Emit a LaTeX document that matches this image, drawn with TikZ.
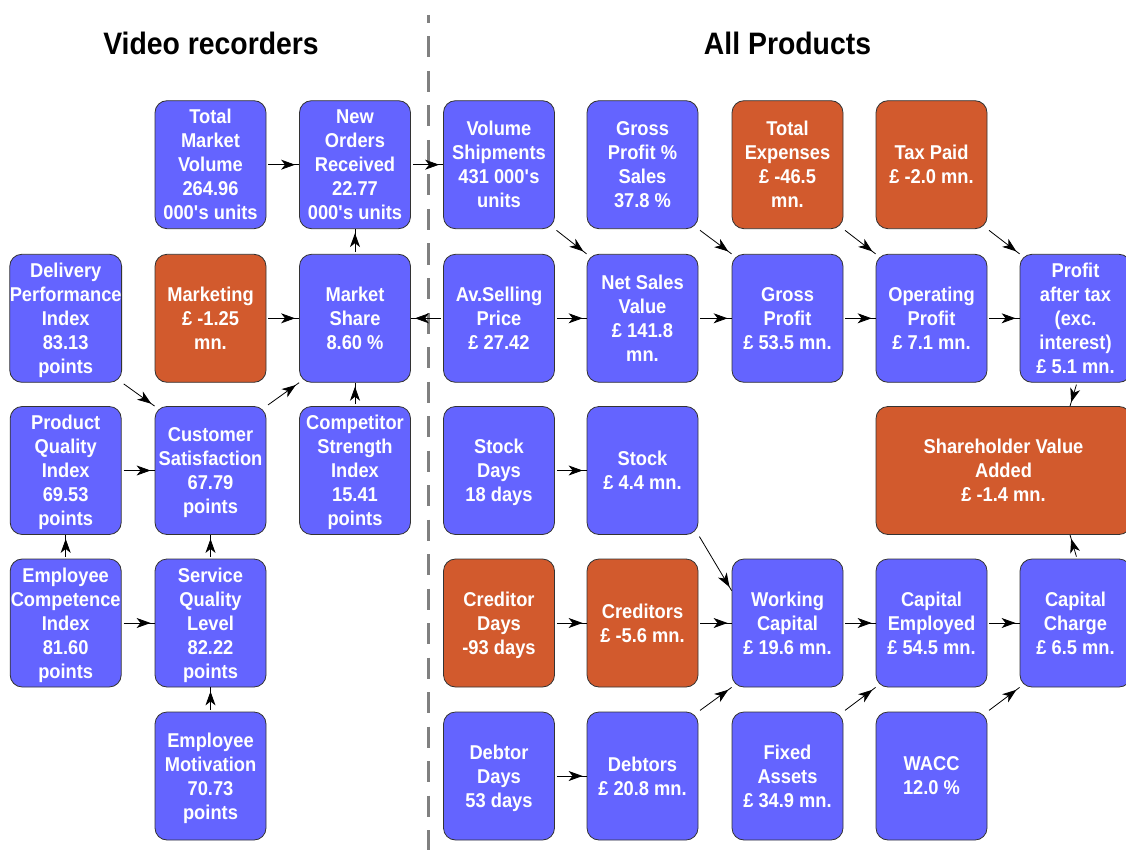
\documentclass[tikz,border=0pt]{standalone}
\usepackage{fontspec}
\setmainfont{Liberation Sans}[FakeStretch=0.915]
\usetikzlibrary{arrows.meta,decorations.markings,calc}
\definecolor{boxblue}{RGB}{100,100,255}
\definecolor{boxred}{RGB}{210,90,45}
\begin{document}
\begin{tikzpicture}[x=1pt,y=-1pt,
  box/.style={shape=rectangle,rounded corners=12pt,draw=black!80,line width=0.8pt,fill=boxblue,
    minimum width=111pt,minimum height=128pt,inner sep=0pt,align=center,text=white,text depth=0pt,
    font=\bfseries\fontsize{20}{24}\selectfont},
  costbox/.style={box,fill=boxred},
  title/.style={font=\bfseries\fontsize{31}{36}\selectfont,anchor=base},
  link/.style={line width=0.8pt,shorten <=2pt,postaction={decorate},
    decoration={markings,mark=at position -4pt with {\arrow{Stealth[length=14pt,width=10pt,inset=4pt]}}}}]
\useasboundingbox (0,0) rectangle (1126,850);

\draw[gray,line width=3pt,dash pattern=on 21pt off 13.5pt,dash phase=13pt] (428,15) -- (428,850);
\node[title] (vidtitle) at (211,54.5) {Video recorders};
\node[title] (alltitle) at (787.5,54.5) {All Products};

% video recorders
\node[box] (tmv) at (210.5,164.7) {Total\\Market\\Volume\\264.96\\000\textquotesingle s units};
\node[box] (nor) at (355,164.7) {New\\Orders\\Received\\22.77\\000\textquotesingle s units};
\node[box] (dpi) at (65.7,318.3) {Delivery\\Performance\\Index\\83.13\\points};
\node[costbox] (mkt) at (210.5,318.3) {Marketing\\£ -1.25\\mn.};
\node[box] (ms) at (355,318.3) {Market\\Share\\8.60 \%};
\node[box] (pqi) at (65.7,470.5) {Product\\Quality\\Index\\69.53\\points};
\node[box] (cs) at (210.5,470.5) {Customer\\Satisfaction\\67.79\\points};
\node[box] (csi) at (355,470.5) {Competitor\\Strength\\Index\\15.41\\points};
\node[box] (eci) at (65.7,623) {Employee\\Competence\\Index\\81.60\\points};
\node[box] (sql) at (210.5,623) {Service\\Quality\\Level\\82.22\\points};
\node[box] (em) at (210.5,776) {Employee\\Motivation\\70.73\\points};

% all products
\node[box] (vs) at (499,164.7) {Volume\\Shipments\\431 000\textquotesingle s\\units};
\node[box] (gps) at (642.5,164.7) {Gross\\Profit \%\\Sales\\37.8 \%};
\node[costbox] (te) at (787.5,164.7) {Total\\Expenses\\£ -46.5\\mn.};
\node[costbox] (tax) at (931.5,164.7) {Tax Paid\\£ -2.0 mn.};
\node[box] (asp) at (499,318.3) {Av.Selling\\Price\\£ 27.42};
\node[box] (nsv) at (642.5,318.3) {Net Sales\\Value\\£ 141.8\\mn.};
\node[box] (gp) at (787.5,318.3) {Gross\\Profit\\£ 53.5 mn.};
\node[box] (op) at (931.5,318.3) {Operating\\Profit\\£ 7.1 mn.};
\node[box] (pat) at (1075.5,318.3) {Profit\\after tax\\(exc.\\interest)\\£ 5.1 mn.};
\node[box] (sd) at (499,470.5) {Stock\\Days\\18 days};
\node[box] (stk) at (642.5,470.5) {Stock\\£ 4.4 mn.};
\node[costbox,minimum width=255pt] (sva) at (1003.5,470.5) {Shareholder Value\\Added\\£ -1.4 mn.};
\node[costbox] (cd) at (499,623) {Creditor\\Days\\-93 days};
\node[costbox] (cred) at (642.5,623) {Creditors\\£ -5.6 mn.};
\node[box] (wc) at (787.5,623) {Working\\Capital\\£ 19.6 mn.};
\node[box] (ce) at (931.5,623) {Capital\\Employed\\£ 54.5 mn.};
\node[box] (cc) at (1075.5,623) {Capital\\Charge\\£ 6.5 mn.};
\node[box] (dd) at (499,776) {Debtor\\Days\\53 days};
\node[box] (debt) at (642.5,776) {Debtors\\£ 20.8 mn.};
\node[box] (fa) at (787.5,776) {Fixed\\Assets\\£ 34.9 mn.};
\node[box] (wacc) at (931.5,776) {WACC\\12.0 \%};

% links
\draw[link] (tmv.east) -- (nor.west);
\draw[link] (nor.east) -- (vs.west);
\draw[link] (ms.north) -- (nor.south);
\draw[link] (mkt.east) -- (ms.west);
\draw[link] (asp.west) -- (ms.east);
\draw[link] (dpi.south east) -- (cs.north west);
\draw[link] (cs.north east) -- (ms.south west);
\draw[link] (csi.north) -- (ms.south);
\draw[link] (pqi.east) -- (cs.west);
\draw[link] (eci.north) -- (pqi.south);
\draw[link] (sql.north) -- (cs.south);
\draw[link] (eci.east) -- (sql.west);
\draw[link] (em.north) -- (sql.south);

\draw[link] (vs.south east) -- (nsv.north west);
\draw[link] (asp.east) -- (nsv.west);
\draw[link] (gps.south east) -- (gp.north west);
\draw[link] (nsv.east) -- (gp.west);
\draw[link] (te.south east) -- (op.north west);
\draw[link] (gp.east) -- (op.west);
\draw[link] (tax.south east) -- (pat.north west);
\draw[link] (op.east) -- (pat.west);
\draw[link] ([xshift=1.5pt]pat.south) -- ($(pat.south |- sva.north)+(-5.5,0)$);
\draw[link] ([xshift=1.5pt]cc.north) -- ($(cc.north |- sva.south)+(-5.5,0)$);
\draw[link] (sd.east) -- (stk.west);
\draw[link] (stk.south east) -- ([yshift=-32pt]wc.north west);
\draw[link] (cd.east) -- (cred.west);
\draw[link] (cred.east) -- (wc.west);
\draw[link] (wc.east) -- (ce.west);
\draw[link] (ce.east) -- (cc.west);
\draw[link] (dd.east) -- (debt.west);
\draw[link] (debt.north east) -- (wc.south west);
\draw[link] (fa.north east) -- (ce.south west);
\draw[link] (wacc.north east) -- (cc.south west);
\end{tikzpicture}
\end{document}
